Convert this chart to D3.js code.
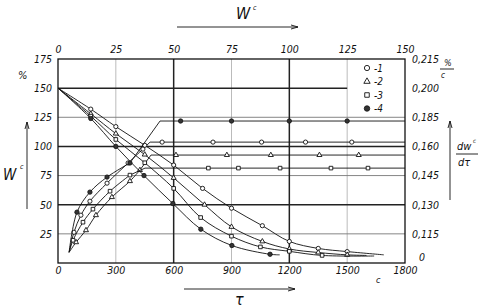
<!DOCTYPE html>
<html lang="ru">
<head>
<meta charset="UTF-8">
<title>Drying curves</title>
<script src="https://d3js.org/d3.v7.min.js"></script>
<style>
  body { margin: 0; background: #fff; }
  svg text { font-family: "DejaVu Sans Condensed", "Liberation Sans Narrow", sans-serif; font-style: italic; fill: #111; }
  .tick text { font-size: 10.5px; }
  .curve { fill: none; stroke: #111; stroke-width: 0.9; }
</style>
</head>
<body>
<div id="chart"></div>
<script>
// axis ticks
const timeTicks = [0, 300, 600, 900, 1200, 1500, 1800];
const moistTicks = [0, 25, 50, 75, 100, 125, 150];
const pctTicks = [25, 50, 75, 100, 125, 150, 175];
const rateLevels = [0, 25, 50, 75, 100, 125, 150, 175];
const rateLabels = ["0", "0,115", "0,130", "0,145", "0,160", "0,185", "0,200", "0,215"];

// grid
const gridMajorY = [50, 100];
const gridMinorY = [25, 75, 125];
const gridMajorX = [600, 1200];
const gridMinorX = [300, 900, 1500];

// drying curves W (%) vs time (s)
const dry1 = [[0,150],[170,132],[300,117],[450,101],[600,84],[750,64],[900,47],[1060,32],[1200,18.5],[1350,12.5],[1500,9.8],[1690,7]];
const dry2 = [[0,150],[170,128],[300,111],[450,93],[600,73],[760,50],[900,31],[1060,18.5],[1200,12],[1350,9],[1500,7],[1600,6.5]];
const dry3 = [[0,150],[170,126],[300,106],[450,86],[600,64],[740,39],[900,23],[1050,13.8],[1200,10],[1370,6.5],[1640,6]];
const dry4 = [[0,150],[170,124],[300,100],[446,75],[596,51],[741,29],[902,15],[1100,7.5],[1150,7]];

// rate curves vs moisture (top axis), in left-axis units
const rise1 = [[4.8,9.2],[6.9,26.4],[9.9,41],[13.8,53],[21.2,68.5],[30.3,85.8],[36.7,97.7]];
const rise2 = [[4.8,9.2],[7.8,17.8],[12.1,28.1],[16.4,41],[23.3,56.5],[31.1,70.2],[35.4,79.7]];
const rise3 = [[4.8,9.2],[6.5,19.5],[10.8,35],[15.1,46.2],[22.5,61.6],[31.1,75.4]];
const rise4 = [[4.8,9.2],[8.2,43.6],[13.8,60.8],[21.2,73.7],[31.1,85.8]];
const knee1 = [39.8, 103.7], knee2 = [40.2, 92.6], knee3 = [37.6, 81.4], knee4 = [44.1, 121.8];
const flatMarks1 = [45, 67, 88, 107, 127];
const flatMarks2 = [51, 73, 92, 113, 130];
const flatMarks3 = [65, 78, 96, 118, 134];
const flatMarks4 = [53, 75, 100, 125];

const legendNames = ["-1", "-2", "-3", "-4"];

const W = 481, H = 308;
const margin = { top: 59, right: 76, bottom: 45, left: 58 };
const pw = W - margin.left - margin.right;
const ph = H - margin.top - margin.bottom;

const svg = d3.select("#chart").append("svg").attr("width", W).attr("height", H);
const g = svg.append("g").attr("transform", `translate(${margin.left},${margin.top})`);

const x = d3.scaleLinear().domain([0, 1800]).range([0, pw]);
const xTop = d3.scaleLinear().domain([0, 150]).range([0, pw]);
const y = d3.scaleLinear().domain([0, 175]).range([ph, 0]);

// grid lines
g.selectAll(".gminx").data(gridMinorX).enter().append("line")
  .attr("x1", d => x(d)).attr("x2", d => x(d)).attr("y1", 0).attr("y2", ph)
  .attr("stroke", "#bbb").attr("stroke-width", 1);
g.selectAll(".gminy").data(gridMinorY).enter().append("line")
  .attr("x1", 0).attr("x2", pw).attr("y1", d => y(d)).attr("y2", d => y(d))
  .attr("stroke", "#777").attr("stroke-width", 0.9);
g.selectAll(".gmajx").data(gridMajorX).enter().append("line")
  .attr("x1", d => x(d)).attr("x2", d => x(d)).attr("y1", 0).attr("y2", ph)
  .attr("stroke", "#222").attr("stroke-width", 1.5);
g.selectAll(".gmajy").data(gridMajorY).enter().append("line")
  .attr("x1", 0).attr("x2", pw).attr("y1", d => y(d)).attr("y2", d => y(d))
  .attr("stroke", "#222").attr("stroke-width", 1.5);
// 150 % line stops at 1500 s
g.append("line").attr("x1", 0).attr("x2", x(1500)).attr("y1", y(150)).attr("y2", y(150))
  .attr("stroke", "#222").attr("stroke-width", 1.5);

g.append("rect").attr("width", pw).attr("height", ph)
  .attr("fill", "none").attr("stroke", "#111").attr("stroke-width", 1.3);

// axes
function styleAxis(sel) { sel.select(".domain").remove(); }
g.append("g").call(d3.axisLeft(y).tickValues(pctTicks).tickSize(0).tickPadding(6)).call(styleAxis);
g.append("g").attr("transform", `translate(0,${ph})`)
  .call(d3.axisBottom(x).tickValues(timeTicks).tickFormat(d3.format("d")).tickSize(0).tickPadding(4))
  .call(styleAxis);
g.append("g").call(d3.axisTop(xTop).tickValues(moistTicks).tickSize(0).tickPadding(6)).call(styleAxis);
const rightAxis = g.append("g").attr("transform", `translate(${pw},0)`)
  .call(d3.axisRight(y).tickValues(rateLevels).tickSize(0).tickPadding(7)
    .tickFormat((d, i) => rateLabels[i])).call(styleAxis);
rightAxis.selectAll(".tick text").filter(d => d === 0).attr("dy", "-0.25em").attr("x", 14);
g.selectAll(".tick text").attr("fill", "#111");

// curves
const smooth = d3.line().x(d => x(d[0])).y(d => y(d[1])).curve(d3.curveCatmullRom.alpha(0.5));
const smoothTop = d3.line().x(d => xTop(d[0])).y(d => y(d[1])).curve(d3.curveCatmullRom.alpha(0.5));
const straightTop = d3.line().x(d => xTop(d[0])).y(d => y(d[1]));

const series = [
  { dry: dry1, rise: rise1, knee: knee1, flat: flatMarks1, mark: "circle" },
  { dry: dry2, rise: rise2, knee: knee2, flat: flatMarks2, mark: "triangle" },
  { dry: dry3, rise: rise3, knee: knee3, flat: flatMarks3, mark: "square" },
  { dry: dry4, rise: rise4, knee: knee4, flat: flatMarks4, mark: "filled" }
];

function marker(sel, type, px, py, big) {
  const k = big ? 1.25 : 1;
  if (type === "circle") {
    sel.append("circle").attr("cx", px).attr("cy", py).attr("r", 2.1 * k)
      .attr("fill", "#fff").attr("stroke", "#111").attr("stroke-width", 0.9);
  } else if (type === "filled") {
    sel.append("circle").attr("cx", px).attr("cy", py).attr("r", 2.2 * k)
      .attr("fill", "#333").attr("stroke", "#111").attr("stroke-width", 0.8);
  } else {
    const sym = type === "triangle" ? d3.symbolTriangle : d3.symbolSquare;
    sel.append("path").attr("d", d3.symbol().type(sym).size((type === "triangle" ? 11 : 13) * k * k)())
      .attr("transform", `translate(${px},${py})`)
      .attr("fill", "#fff").attr("stroke", "#111").attr("stroke-width", 0.9);
  }
}

series.forEach(s => {
  g.append("path").attr("class", "curve").attr("d", smooth(s.dry));
  g.append("path").attr("class", "curve").attr("d", smoothTop(s.rise));
  const last = s.rise[s.rise.length - 1];
  g.append("path").attr("class", "curve")
    .attr("d", straightTop([last, s.knee, [150, s.knee[1]]]));
  s.dry.slice(1, -1).forEach(d => marker(g, s.mark, x(d[0]), y(d[1])));
  s.rise.slice(1).forEach(d => marker(g, s.mark, xTop(d[0]), y(d[1])));
  s.flat.forEach(w => marker(g, s.mark, xTop(w), y(s.knee[1])));
});

// legend
const types = ["circle", "triangle", "square", "filled"];
legendNames.forEach((n, i) => {
  const ly = 68 + i * 13.5;
  marker(svg, types[i], 367, ly, true);
  svg.append("text").attr("x", 374).attr("y", ly + 3.5).attr("font-size", 10).text(n);
});

// axis titles and arrows
const arrow = (x1, y1, x2, y2) => {
  svg.append("line").attr("x1", x1).attr("y1", y1).attr("x2", x2).attr("y2", y2)
    .attr("stroke", "#111").attr("stroke-width", 0.9);
};
// top
svg.append("text").attr("x", 236).attr("y", 19).attr("font-size", 16).text("W");
svg.append("text").attr("x", 253).attr("y", 10).attr("font-size", 7).text("c");
arrow(177, 27, 298, 27); arrow(298, 27, 291, 25); arrow(298, 27, 291, 29);
// bottom
arrow(184, 289, 295, 289); arrow(295, 289, 288, 287); arrow(295, 289, 288, 291);
svg.append("text").attr("x", 235).attr("y", 305).attr("font-size", 16).text("τ");
svg.append("text").attr("x", 376).attr("y", 283).attr("font-size", 9).text("c");
// left
svg.append("text").attr("x", 18).attr("y", 79).attr("font-size", 11).text("%");
arrow(27, 209, 27, 122); arrow(27, 122, 25, 129); arrow(27, 122, 29, 129);
svg.append("text").attr("x", 3).attr("y", 180).attr("font-size", 15).text("W");
svg.append("text").attr("x", 20).attr("y", 169).attr("font-size", 7).text("c");
// right
arrow(450, 200, 450, 121); arrow(450, 121, 448, 128); arrow(450, 121, 452, 128);
svg.append("text").attr("x", 457).attr("y", 150).attr("font-size", 11).text("dw");
svg.append("text").attr("x", 473).attr("y", 143).attr("font-size", 6).text("c");
arrow(456, 154, 478, 154);
svg.append("text").attr("x", 458).attr("y", 166).attr("font-size", 11).text("dτ");
svg.append("text").attr("x", 444).attr("y", 66).attr("font-size", 9).text("%");
arrow(440, 69, 454, 69);
svg.append("text").attr("x", 441).attr("y", 78).attr("font-size", 8).text("c");
</script>
</body>
</html>
